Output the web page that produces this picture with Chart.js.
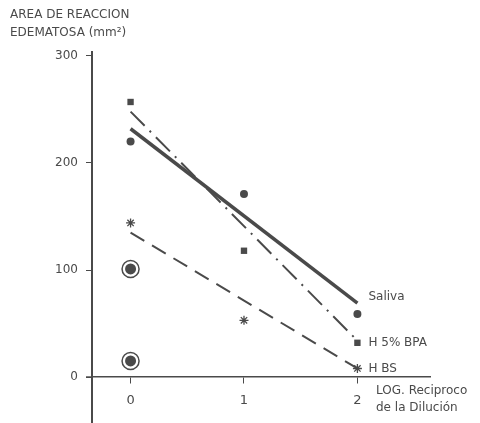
<!DOCTYPE html>
<html>
<head>
<meta charset="utf-8">
<script src="https://cdn.jsdelivr.net/npm/chart.js@4.4.0/dist/chart.umd.min.js"></script>
<style>
  html, body { margin: 0; padding: 0; background: #fff; }
  #wrap { width: 480px; height: 423px; }
</style>
</head>
<body>
<div id="wrap"><canvas id="lineChart" width="480" height="423"></canvas></div>
<script>
// x = log reciproco de la dilucion
var dilutions = [0, 1, 2];
var xTicks = [0, 1, 2];
var yTicks = [0, 100, 200, 300];

// measured points
var saliva = [220, 171, 59];
var bpa = [257, 118, 32];
var hbs = [144, 53, 8];
var circled = [101, 15];

// fitted lines (value at x=0 and x=2)
var salivaLine = [232, 69];
var bpaLine = [248, 34];
var hbsLine = [135, 8];

var seriesNames = ['Saliva', 'H 5% BPA', 'H BS'];
var seriesLabelY = [75, 32, 8];

var ink = '#4a4a4a';
var font = '"DejaVu Sans", sans-serif';

function pts(xs, ys) {
  var out = [];
  for (var i = 0; i < ys.length; i++) out.push({x: xs[i], y: ys[i]});
  return out;
}
var lineX = [dilutions[0], dilutions[2]];

// extra text: axis titles and series names
var textPlugin = {
  id: 'texts',
  afterDraw: function(chart) {
    var ctx = chart.ctx;
    var xs = chart.scales.x, ys = chart.scales.y;
    var axisX = Math.round(chart.chartArea.left);
    ctx.save();
    ctx.strokeStyle = ink;
    // little stub of the x axis left of the y axis
    ctx.lineWidth = 1.5;
    ctx.beginPath();
    ctx.moveTo(axisX - 6, ys.getPixelForValue(0));
    ctx.lineTo(axisX, ys.getPixelForValue(0));
    ctx.stroke();
    // y axis runs on to the bottom edge
    ctx.lineWidth = 2;
    ctx.beginPath();
    ctx.moveTo(axisX, ys.bottom - 1);
    ctx.lineTo(axisX, 423);
    ctx.stroke();

    ctx.fillStyle = ink;
    ctx.font = '12px ' + font;
    ctx.textAlign = 'left';
    ctx.textBaseline = 'middle';
    ctx.fillText('AREA DE REACCION', 10, 15);
    ctx.fillText('EDEMATOSA (mm²)', 10, 33);
    for (var i = 0; i < seriesNames.length; i++) {
      ctx.fillText(seriesNames[i], xs.getPixelForValue(2) + 11, ys.getPixelForValue(seriesLabelY[i]));
    }
    ctx.fillText('LOG. Reciproco', 376, 391);
    ctx.fillText('de la Dilución', 376, 408);
    ctx.restore();
  }
};

var ctx = document.getElementById('lineChart').getContext('2d');
var chart = new Chart(ctx, {
  type: 'scatter',
  data: {
    datasets: [
      {
        data: pts(lineX, salivaLine), showLine: true, borderColor: ink, borderWidth: 3.5,
        pointRadius: 0
      },
      {
        data: pts(lineX, bpaLine), showLine: true, borderColor: ink, borderWidth: 2,
        borderDash: [20, 7, 2, 7], pointRadius: 0
      },
      {
        data: pts(lineX, hbsLine), showLine: true, borderColor: ink, borderWidth: 2,
        borderDash: [16, 9], pointRadius: 0
      },
      {
        data: pts(dilutions, saliva), pointStyle: 'circle', pointRadius: 4,
        backgroundColor: ink, borderColor: ink, borderWidth: 0
      },
      {
        data: pts(dilutions, bpa), pointStyle: 'rect', pointRadius: 4.5,
        backgroundColor: ink, borderColor: ink, borderWidth: 0
      },
      {
        data: pts(dilutions, hbs), pointStyle: 'star', pointRadius: 4.5,
        backgroundColor: ink, borderColor: ink, borderWidth: 1.3
      },
      {
        data: pts([0, 0], circled), pointStyle: 'circle', pointRadius: 5.5,
        backgroundColor: ink, borderColor: ink, borderWidth: 0
      },
      {
        data: pts([0, 0], circled), pointStyle: 'circle', pointRadius: 8.5,
        backgroundColor: 'rgba(0,0,0,0)', borderColor: ink, borderWidth: 1.5
      }
    ]
  },
  options: {
    responsive: false,
    animation: false,
    layout: { padding: { left: 0, top: 52, right: 50, bottom: 0 } },
    plugins: { legend: { display: false }, tooltip: { enabled: false } },
    scales: {
      x: {
        type: 'linear',
        position: { y: 0 },
        min: -0.34,
        max: 2.64,
        afterBuildTicks: function(scale) {
          scale.ticks = xTicks.map(function(v) { return {value: v}; });
        },
        afterFit: function(scale) {
          scale.height = 0;
          scale.paddingLeft = 0; scale.paddingRight = 0;
          scale.paddingTop = 0; scale.paddingBottom = 0;
        },
        grid: { drawOnChartArea: false, drawTicks: true, tickLength: 6, color: ink },
        border: { display: true, color: ink, width: 1.5 },
        ticks: { color: ink, padding: 10, font: { family: font, size: 13 } }
      },
      y: {
        type: 'linear',
        position: 'left',
        min: -33.6,
        max: 303.7,
        afterBuildTicks: function(scale) {
          scale.ticks = yTicks.map(function(v) { return {value: v}; });
        },
        afterFit: function(scale) {
          scale.width = 92;
          scale.paddingTop = 0; scale.paddingBottom = 0;
        },
        grid: { drawOnChartArea: false, drawTicks: true, tickLength: 6, color: ink },
        border: { display: true, color: ink, width: 2 },
        ticks: { color: ink, padding: 8, font: { family: font, size: 12 } }
      }
    }
  },
  plugins: [textPlugin]
});
</script>
</body>
</html>
